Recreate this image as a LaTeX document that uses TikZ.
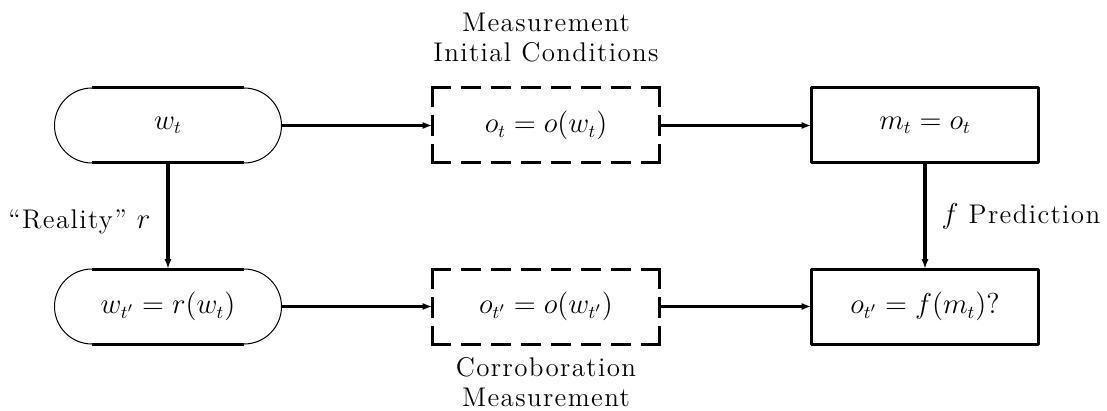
\documentclass[tikz,border=0pt]{standalone}
\usepackage{fontspec}
\setmainfont{Latin Modern Roman}[LetterSpace=5]
\usetikzlibrary{arrows.meta,positioning}
\begin{document}
\begin{tikzpicture}[x=0.5pt, y=-0.5pt, font=\fontsize{13.5}{15}\selectfont, line join=round, >={Latex[length=5pt,width=3.6pt]},
	box/.style={minimum width=113.5pt, minimum height=37.5pt, inner sep=0pt, outer sep=0pt},
	oval/.style={box, draw, line width=0.5pt, rounded corners=18.75pt},
	frame/.style={box, draw, line width=1.5pt},
	hdash/.style={line width=1.5pt, line cap=rect, dash pattern=on 8.5pt off 6.5pt},
	vdash/.style={line width=1.5pt, line cap=rect, dash pattern=on 9pt off 5.5pt},
	flow/.style={->, line width=1.4pt},
	tag/.style={inner sep=0pt, align=center}]
	\useasboundingbox (0,0) rectangle (1107,411);
	\node[oval] (w) at (168,125.5) {$w_t$};
	\node[box] (o) at (546,125.5) {$o_t = o(w_t)$};
	\node[frame] (m) at (925,125.5) {$m_t = o_t$};
	\node[oval] (wp) at (168,306.5) {$w_{t'} = r(w_t)$};
	\node[box] (op) at (546,306.5) {$o_{t'} = o(w_{t'})$};
	\node[frame] (f) at (925,306.5) {$o_{t'} = f(m_t)?$};
	% straight parts of the ovals are heavy
	\foreach \n in {w,wp}{
		\draw[line width=1.5pt] ([xshift=18.75pt]\n.north west) -- ([xshift=-18.75pt]\n.north east);
		\draw[line width=1.5pt] ([xshift=18.75pt]\n.south west) -- ([xshift=-18.75pt]\n.south east);
	}
	% dashed frames, side by side
	\foreach \n in {o,op}{
		\draw[hdash] (\n.north west) -- (\n.north east);
		\draw[hdash] (\n.south west) -- (\n.south east);
		\draw[vdash] (\n.north west) -- (\n.south west);
		\draw[vdash] (\n.north east) -- (\n.south east);
	}
	\node[tag, above=13pt of o] (init) {Measurement\\Initial Conditions};
	\node[tag, below=6.5pt of op] (corr) {Corroboration\\Measurement};
	\draw[flow] (w) -- (o);
	\draw[flow] (o) -- (m);
	\draw[flow, line width=1.7pt] (wp) -- (op);
	\draw[flow, line width=1.7pt] (op) -- (f);
	\draw[flow, line width=1.6pt] (w) -- node[left=8pt, inner sep=0pt, yshift=-3pt] (real) {“Reality” $r$} (wp);
	\draw[flow, line width=1.6pt] (m) -- node[right=7.5pt, inner sep=0pt] (pred) {$f$ Prediction} (f);
\end{tikzpicture}
\end{document}
